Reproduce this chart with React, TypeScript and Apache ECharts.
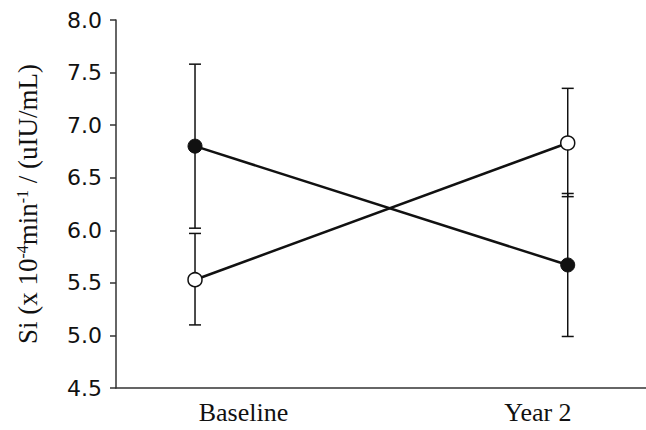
import React, { useEffect, useRef } from "react";
import * as echarts from "echarts";

const categories = ["Baseline", "Year 2"];
const categoryX = [0, 1];
const labelX = [0.13, 0.92];
const filledMean = [6.8, 5.67];
const filledUpper = [7.58, 6.35];
const filledLower = [6.02, 4.99];
const openMean = [5.53, 6.83];
const openUpper = [5.97, 7.35];
const openLower = [5.1, 6.32];
const yTicks = [4.5, 5.0, 5.5, 6.0, 6.5, 7.0, 7.5, 8.0];

export default function App() {
  const ref = useRef<HTMLDivElement>(null);
  useEffect(() => {
    const chart = echarts.init(ref.current!, null, { renderer: "svg" });
    const errData = [
      ...categoryX.map((x, i) => [x, filledLower[i], filledUpper[i]]),
      ...categoryX.map((x, i) => [x, openLower[i], openUpper[i]]),
    ];
    chart.setOption({
      animation: false,
      backgroundColor: "#fff",
      grid: { left: 116, right: 0, top: 20, bottom: 42 },
      xAxis: {
        type: "value",
        min: -0.212,
        max: 1.21,
        splitLine: { show: false },
        axisTick: { show: false },
        axisLine: { show: true, onZero: false, lineStyle: { color: "#333", width: 1.5 } },
        axisLabel: {
          customValues: labelX,
          formatter: (v: number) => categories[labelX.indexOf(v)] ?? "",
          fontFamily: "Liberation Serif",
          fontSize: 26,
          color: "#111",
          margin: 11,
        },
      },
      yAxis: {
        type: "value",
        min: yTicks[0],
        max: yTicks[yTicks.length - 1],
        interval: 0.5,
        splitLine: { show: false },
        axisLine: { show: true, onZero: false, lineStyle: { color: "#333", width: 1.5 } },
        axisTick: { show: true, length: 6, lineStyle: { color: "#333", width: 1.5 } },
        axisLabel: {
          formatter: (v: number) => v.toFixed(1),
          fontFamily: "DejaVu Sans",
          fontSize: 22,
          color: "#111",
          margin: 14,
        },
        name: "Si (x 10{sup|-4}min{sup|-1} / (uIU/mL)",
        nameLocation: "middle",
        nameGap: 74,
        nameRotate: 90,
        nameTextStyle: {
          fontFamily: "Liberation Serif",
          fontSize: 27,
          color: "#111",
          rich: {
            sup: { fontFamily: "Liberation Serif", fontSize: 16, verticalAlign: "top", padding: [0, 0, 12, 0], color: "#111" },
          },
        },
      },
      series: [
        {
          type: "custom",
          z: 1,
          data: errData,
          renderItem: (params: any, api: any) => {
            const x = api.value(0);
            const top = api.coord([x, api.value(2)]);
            const bot = api.coord([x, api.value(1)]);
            const hw = 6;
            const style = { stroke: "#111", lineWidth: 1.5 };
            return {
              type: "group",
              children: [
                { type: "line", shape: { x1: top[0], y1: top[1], x2: bot[0], y2: bot[1] }, style },
                { type: "line", shape: { x1: top[0] - hw, y1: top[1], x2: top[0] + hw, y2: top[1] }, style },
                { type: "line", shape: { x1: bot[0] - hw, y1: bot[1], x2: bot[0] + hw, y2: bot[1] }, style },
              ],
            };
          },
        },
        {
          type: "line",
          z: 3,
          data: categoryX.map((x, i) => [x, filledMean[i]]),
          symbol: "circle",
          symbolSize: 14,
          lineStyle: { color: "#111", width: 2.5 },
          itemStyle: { color: "#111", borderColor: "#111", borderWidth: 1 },
        },
        {
          type: "line",
          z: 3,
          data: categoryX.map((x, i) => [x, openMean[i]]),
          symbol: "circle",
          symbolSize: 14,
          lineStyle: { color: "#111", width: 2.5 },
          itemStyle: { color: "#fff", borderColor: "#111", borderWidth: 1.5 },
        },
      ],
    });
    return () => chart.dispose();
  }, []);
  return <div ref={ref} style={{ width: 646, height: 430, position: "absolute", left: 0, top: 0 }} />;
}
